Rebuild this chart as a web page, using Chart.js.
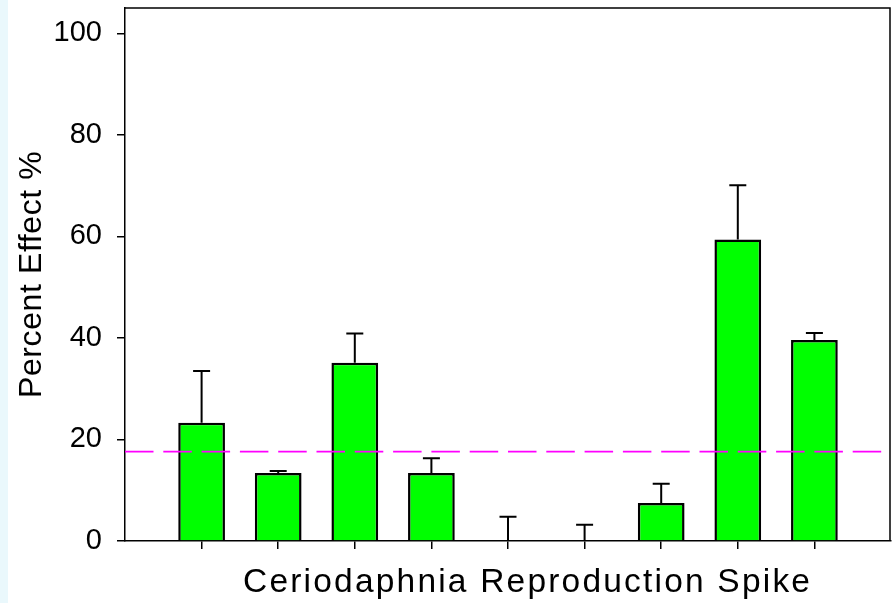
<!DOCTYPE html>
<html>
<head>
<meta charset="utf-8">
<script src="https://cdn.jsdelivr.net/npm/chart.js@4.4.1/dist/chart.umd.min.js"></script>
<style>
  html, body { margin: 0; padding: 0; background: #ffffff; }
  #wrap { width: 892px; height: 603px; }
</style>
</head>
<body>
<div id="wrap"><canvas id="effect-chart" width="892" height="603"></canvas></div>
<script>
// -- data --
const samplePositions = [1, 2, 3, 4, 5, 6, 7, 8, 9];
const percentEffect = [23.3, 13.4, 35.1, 13.4, 0, 0, 7.5, 59.4, 39.6];
const errorUpper = [10.2, 0.4, 5.8, 2.9, 4.8, 3.2, 3.8, 10.7, 1.4];
const yTickValues = [0, 20, 40, 60, 80, 100];
const thresholdValue = 17.6;
const xTitle = 'Ceriodaphnia Reproduction Spike';
const yTitle = 'Percent Effect %';

const EffectChart = document.getElementById('effect-chart');
const fontFamily = '"Liberation Sans", Arial, sans-serif';

// drop the label overhang padding so the plot area sits where we want it
function noPadding(scale) {
    scale.paddingTop = 0;
    scale.paddingBottom = 0;
    scale.paddingLeft = 0;
    scale.paddingRight = 0;
}

// background, error bars, threshold line, frame, axis titles
const extrasPlugin = {
    id: 'extras',
    beforeDraw: function (chart) {
        const ctx = chart.ctx;
        ctx.save();
        ctx.fillStyle = '#ffffff';
        ctx.fillRect(0, 0, chart.width, chart.height);
        ctx.fillStyle = '#eaf8fc';
        ctx.fillRect(0, 0, 8, chart.height);
        ctx.restore();
    },
    afterDatasetsDraw: function (chart) {
        const ctx = chart.ctx;
        const xs = chart.scales.x;
        const ys = chart.scales.y;
        const area = chart.chartArea;

        //threshold line
        ctx.save();
        ctx.strokeStyle = '#ff00ff';
        ctx.lineWidth = 1.8;
        ctx.setLineDash([28.5, 9.8]);
        const ty = ys.getPixelForValue(thresholdValue);
        ctx.beginPath();
        ctx.moveTo(area.left, ty);
        ctx.lineTo(area.right, ty);
        ctx.stroke();
        ctx.restore();

        //error bars
        ctx.save();
        ctx.strokeStyle = '#000000';
        ctx.lineWidth = 2;
        for (let i = 0; i < samplePositions.length; i++) {
            const px = xs.getPixelForValue(samplePositions[i]);
            const y0 = ys.getPixelForValue(percentEffect[i]);
            const y1 = ys.getPixelForValue(percentEffect[i] + errorUpper[i]);
            ctx.beginPath();
            ctx.moveTo(px, y0);
            ctx.lineTo(px, y1);
            ctx.moveTo(px - 8.5, y1);
            ctx.lineTo(px + 8.5, y1);
            ctx.stroke();
        }
        ctx.restore();
    },
    afterDraw: function (chart) {
        const ctx = chart.ctx;
        const area = chart.chartArea;

        //frame
        ctx.save();
        ctx.strokeStyle = '#000000';
        ctx.lineWidth = 1.5;
        ctx.beginPath();
        ctx.moveTo(area.left, area.top);
        ctx.lineTo(area.right - 1, area.top);
        ctx.lineTo(area.right - 1, area.bottom);
        ctx.stroke();
        ctx.restore();

        //x title
        ctx.save();
        ctx.fillStyle = '#000000';
        ctx.font = '33.5px ' + fontFamily;
        ctx.letterSpacing = '2.2px';
        ctx.textAlign = 'left';
        ctx.textBaseline = 'alphabetic';
        ctx.fillText(xTitle, 243, 592);
        ctx.restore();

        //y title
        ctx.save();
        ctx.fillStyle = '#000000';
        ctx.font = '32px ' + fontFamily;
        ctx.letterSpacing = '0.6px';
        ctx.translate(41, 398);
        ctx.rotate(-Math.PI / 2);
        ctx.textAlign = 'left';
        ctx.textBaseline = 'alphabetic';
        ctx.fillText(yTitle, 0, 0);
        ctx.restore();
    }
};

new Chart(EffectChart, {
    type: 'bar',
    data: {
        datasets: [{
            label: yTitle,
            data: samplePositions.map(function (x, i) { return { x: x, y: percentEffect[i] }; }),
            backgroundColor: '#00ff00',
            borderColor: '#000000',
            borderWidth: 2.5,
            borderSkipped: 'bottom',
            barPercentage: 0.61,
            categoryPercentage: 1
        }]
    },
    options: {
        responsive: false,
        animation: false,
        devicePixelRatio: 1,
        layout: { padding: { top: 8, right: 1, left: 0, bottom: 0 } },
        plugins: {
            legend: { display: false },
            tooltip: { enabled: false }
        },
        scales: {
            x: {
                type: 'linear',
                min: 0,
                max: 10,
                offset: false,
                afterBuildTicks: function (scale) {
                    scale.ticks = samplePositions.map(function (v) { return { value: v }; });
                },
                afterFit: function (scale) {
                    scale.height = 62;
                    noPadding(scale);
                },
                ticks: {
                    callback: function () { return ''; }
                },
                grid: {
                    offset: false,
                    drawOnChartArea: false,
                    drawTicks: true,
                    tickLength: 8,
                    color: '#000000',
                    lineWidth: 1.5
                },
                border: { display: true, color: '#000000', width: 1.5 }
            },
            y: {
                min: 0,
                max: 105,
                afterBuildTicks: function (scale) {
                    scale.ticks = yTickValues.map(function (v) { return { value: v }; });
                },
                afterFit: function (scale) {
                    scale.width = 125;
                    noPadding(scale);
                },
                ticks: {
                    padding: 15,
                    color: '#000000',
                    font: { family: fontFamily, size: 29 }
                },
                grid: {
                    drawOnChartArea: false,
                    drawTicks: true,
                    tickLength: 8,
                    color: '#000000',
                    lineWidth: 1.5
                },
                border: { display: true, color: '#000000', width: 1.5 }
            }
        }
    },
    plugins: [extrasPlugin]
});
</script>
</body>
</html>
